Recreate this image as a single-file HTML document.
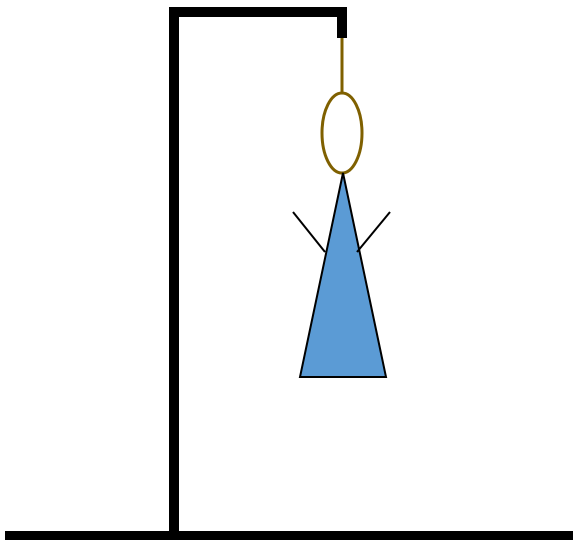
<!DOCTYPE html>
<html><head><meta charset="utf-8"><style>
html,body{margin:0;padding:0;background:#fff;}
svg{display:block;}
</style></head><body>
<svg width="580" height="547" viewBox="0 0 580 547">
  <rect x="5" y="531" width="568" height="9" fill="#000"/>
  <rect x="169" y="7" width="10" height="529" fill="#000"/>
  <rect x="169" y="7" width="178" height="10" fill="#000"/>
  <rect x="337" y="7" width="10" height="31" fill="#000"/>
  <line x1="342" y1="38" x2="342" y2="93" stroke="#7f6000" stroke-width="3"/>
  <ellipse cx="342" cy="133" rx="20" ry="40" fill="none" stroke="#7f6000" stroke-width="3"/>
  <polygon points="343,173 300,377 386,377" fill="#5b9bd5" stroke="#000" stroke-width="2"/>
  <line x1="293" y1="212" x2="325" y2="252" stroke="#000" stroke-width="2"/>
  <line x1="390" y1="212" x2="357" y2="252" stroke="#000" stroke-width="2"/>
</svg>
</body></html>
